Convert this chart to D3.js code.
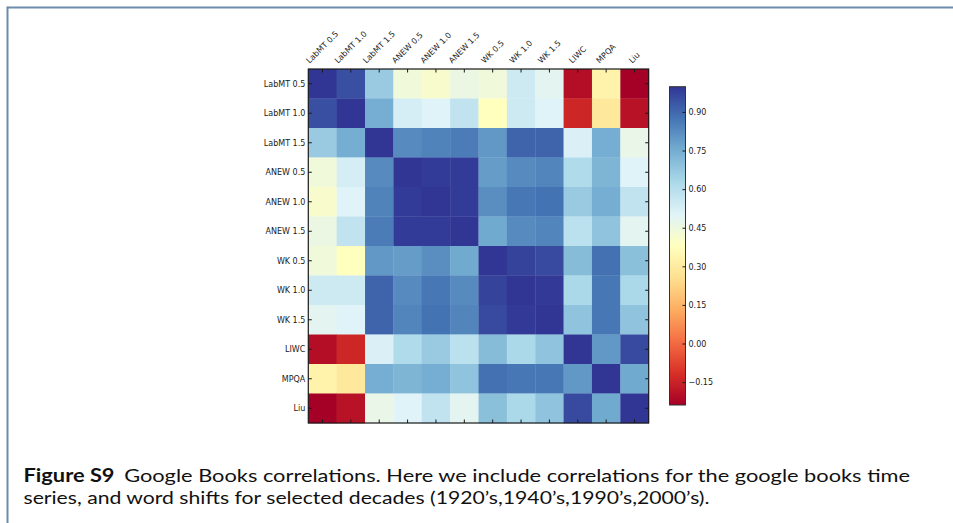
<!DOCTYPE html>
<html>
<head>
<meta charset="utf-8">
<script src="https://cdn.jsdelivr.net/npm/d3@7"></script>
<style>
  html, body { margin: 0; padding: 0; background: #fff; }
  svg { display: block; }
</style>
</head>
<body>
<svg id="fig" width="953" height="523"></svg>
<script>
// Sentiment lexicons compared on the Google Books series
const categories = ["LabMT 0.5", "LabMT 1.0", "LabMT 1.5", "ANEW 0.5", "ANEW 1.0", "ANEW 1.5",
                    "WK 0.5", "WK 1.0", "WK 1.5", "LIWC", "MPQA", "Liu"];

// Pairwise correlation matrix (row i, column j)
const correlations = [
  [ 1.00,  0.95, 0.67, 0.44, 0.41,  0.46, 0.44,  0.55,  0.49, -0.20, 0.33,  -0.237],
  [ 0.95,  1.00, 0.75, 0.53, 0.505, 0.58, 0.38,  0.55,  0.505,-0.14, 0.29,  -0.19],
  [ 0.67,  0.75, 1.00, 0.83, 0.845, 0.86, 0.80,  0.91,  0.91,  0.52, 0.75,   0.47],
  [ 0.44,  0.53, 0.83, 1.00, 0.99,  0.99, 0.79,  0.83,  0.84,  0.62, 0.73,   0.505],
  [ 0.41,  0.505,0.845,0.99, 1.00,  0.99, 0.82,  0.87,  0.88,  0.67, 0.75,   0.58],
  [ 0.46,  0.58, 0.86, 0.99, 0.99,  1.00, 0.76,  0.83,  0.84,  0.59, 0.69,   0.49],
  [ 0.44,  0.38, 0.80, 0.79, 0.82,  0.76, 1.00,  0.975, 0.96,  0.71, 0.885,  0.70],
  [ 0.55,  0.55, 0.91, 0.83, 0.87,  0.83, 0.975, 1.00,  0.995, 0.63, 0.87,   0.63],
  [ 0.49,  0.505,0.91, 0.84, 0.88,  0.84, 0.96,  0.995, 1.00,  0.69, 0.87,   0.69],
  [-0.20, -0.14, 0.52, 0.62, 0.67,  0.59, 0.71,  0.63,  0.69,  1.00, 0.80,   0.96],
  [ 0.33,  0.29, 0.75, 0.73, 0.75,  0.69, 0.885, 0.87,  0.87,  0.80, 1.00,   0.76],
  [-0.237,-0.19, 0.47, 0.505,0.58,  0.49, 0.70,  0.63,  0.69,  0.96, 0.76,   1.00]
];

const colorbarTicks = [-0.15, 0.00, 0.15, 0.30, 0.45, 0.60, 0.75, 0.90];

const captionBold = "Figure S9";
const captionLines = [
  "Google Books correlations. Here we include correlations for the google books time",
  "series, and word shifts for selected decades (1920\u2019s,1940\u2019s,1990\u2019s,2000\u2019s)."
];

// RdYlBu, linearly interpolated between the ColorBrewer anchors
const rdylbu = ["#a50026", "#d73027", "#f46d43", "#fdae61", "#fee090", "#ffffbf",
                "#e0f3f8", "#abd9e9", "#74add1", "#4575b4", "#313695"];

const svg = d3.select("#fig");
const ink = "#1a1a1a";
const font = "'DejaVu Sans', sans-serif";

// page frame
svg.append("line").attr("x1", 7.5).attr("x2", 953).attr("y1", 7.5).attr("y2", 7.5)
   .attr("stroke", "#6d8cad").attr("stroke-width", 2);
svg.append("line").attr("x1", 7.5).attr("x2", 7.5).attr("y1", 6.5).attr("y2", 523)
   .attr("stroke", "#6d8cad").attr("stroke-width", 2);

const flat = correlations.flat();
const vmin = d3.min(flat), vmax = d3.max(flat);
const color = d3.scaleLinear()
  .domain(rdylbu.map((_, i) => vmin + (vmax - vmin) * i / (rdylbu.length - 1)))
  .range(rdylbu)
  .interpolate(d3.interpolateRgb)
  .clamp(true);

const plot = { left: 308.3, right: 648.7, top: 69, bottom: 423 };
const x = d3.scaleBand().domain(categories).range([plot.left, plot.right]).paddingInner(0).paddingOuter(0);
const y = d3.scaleBand().domain(categories).range([plot.top, plot.bottom]).paddingInner(0).paddingOuter(0);

const cells = [];
correlations.forEach((row, i) => row.forEach((v, j) => cells.push({ r: categories[i], c: categories[j], v })));

svg.append("g").selectAll("rect").data(cells).join("rect")
  .attr("x", d => x(d.c))
  .attr("y", d => y(d.r))
  .attr("width", x.bandwidth() + 0.3)
  .attr("height", y.bandwidth() + 0.3)
  .attr("fill", d => color(d.v));

// inward ticks on all four sides
const tk = 3.5;
const ticks = svg.append("g").attr("stroke", ink).attr("stroke-width", 1);
categories.forEach(c => {
  const cx = x(c) + x.bandwidth() / 2;
  const cy = y(c) + y.bandwidth() / 2;
  ticks.append("line").attr("x1", cx).attr("x2", cx).attr("y1", plot.top).attr("y2", plot.top + tk);
  ticks.append("line").attr("x1", cx).attr("x2", cx).attr("y1", plot.bottom).attr("y2", plot.bottom - tk);
  ticks.append("line").attr("x1", plot.left).attr("x2", plot.left + tk).attr("y1", cy).attr("y2", cy);
  ticks.append("line").attr("x1", plot.right).attr("x2", plot.right - tk).attr("y1", cy).attr("y2", cy);
});

svg.append("rect")
  .attr("x", plot.left).attr("y", plot.top)
  .attr("width", plot.right - plot.left).attr("height", plot.bottom - plot.top)
  .attr("fill", "none").attr("stroke", ink).attr("stroke-width", 1.2);

// row labels
svg.append("g").selectAll("text").data(categories).join("text")
  .attr("x", plot.left - 3)
  .attr("y", d => y(d) + y.bandwidth() / 2)
  .attr("dy", "0.35em")
  .attr("text-anchor", "end")
  .attr("font-family", font).attr("font-size", 8).attr("fill", ink)
  .text(d => d);

// column labels, rotated 45 degrees, box centred on the tick
const fs = 8;
const colLabels = svg.append("g").selectAll("text").data(categories).join("text")
  .attr("font-family", font).attr("font-size", fs).attr("fill", ink)
  .attr("text-anchor", "middle").attr("dominant-baseline", "central")
  .text(d => d);
colLabels.each(function (d) {
  const L = this.getComputedTextLength();
  const h = fs * 1.05;
  const half = (L + h) * Math.SQRT1_2 / 2;
  const cx = x(d) + x.bandwidth() / 2;
  const cy = plot.top - 4 - half;
  d3.select(this).attr("transform", `translate(${cx},${cy}) rotate(-45)`);
});

// colorbar
const cb = { left: 669.5, width: 16, top: 86.7, bottom: 405 };
const yc = d3.scaleLinear().domain([vmin, vmax]).range([cb.bottom, cb.top]);
const grad = svg.append("defs").append("linearGradient")
  .attr("id", "cbgrad").attr("x1", 0).attr("x2", 0).attr("y1", 1).attr("y2", 0);
d3.range(0, 1.0001, 0.02).forEach(t => {
  grad.append("stop").attr("offset", t).attr("stop-color", color(vmin + t * (vmax - vmin)));
});
svg.append("rect")
  .attr("x", cb.left).attr("y", cb.top).attr("width", cb.width).attr("height", cb.bottom - cb.top)
  .attr("fill", "url(#cbgrad)").attr("stroke", "#333").attr("stroke-width", 1);

const cbAxis = svg.append("g");
colorbarTicks.forEach(t => {
  cbAxis.append("line")
    .attr("x1", cb.left + cb.width).attr("x2", cb.left + cb.width - 3)
    .attr("y1", yc(t)).attr("y2", yc(t))
    .attr("stroke", ink).attr("stroke-width", 1);
  cbAxis.append("text")
    .attr("x", cb.left + cb.width + 3).attr("y", yc(t)).attr("dy", "0.35em")
    .attr("font-family", font).attr("font-size", 8).attr("fill", ink)
    .text(d3.format(".2f")(t).replace("-", "\u2212"));
});

// caption: bold figure tag followed by the description, one text element per line
const capFont = "Lato, 'Open Sans', sans-serif";
const line1 = svg.append("text")
  .attr("x", 23.5).attr("y", 482)
  .attr("font-family", capFont).attr("font-size", 18).attr("fill", "#111")
  .attr("textLength", 886.5).attr("lengthAdjust", "spacingAndGlyphs");
line1.append("tspan").attr("font-weight", "bold").text(captionBold);
line1.append("tspan").attr("dx", 8).text(captionLines[0]);
svg.append("text")
  .attr("x", 23.5).attr("y", 503.5)
  .attr("font-family", capFont).attr("font-size", 18).attr("fill", "#111")
  .attr("textLength", 686).attr("lengthAdjust", "spacingAndGlyphs")
  .text(captionLines[1]);
</script>
</body>
</html>
